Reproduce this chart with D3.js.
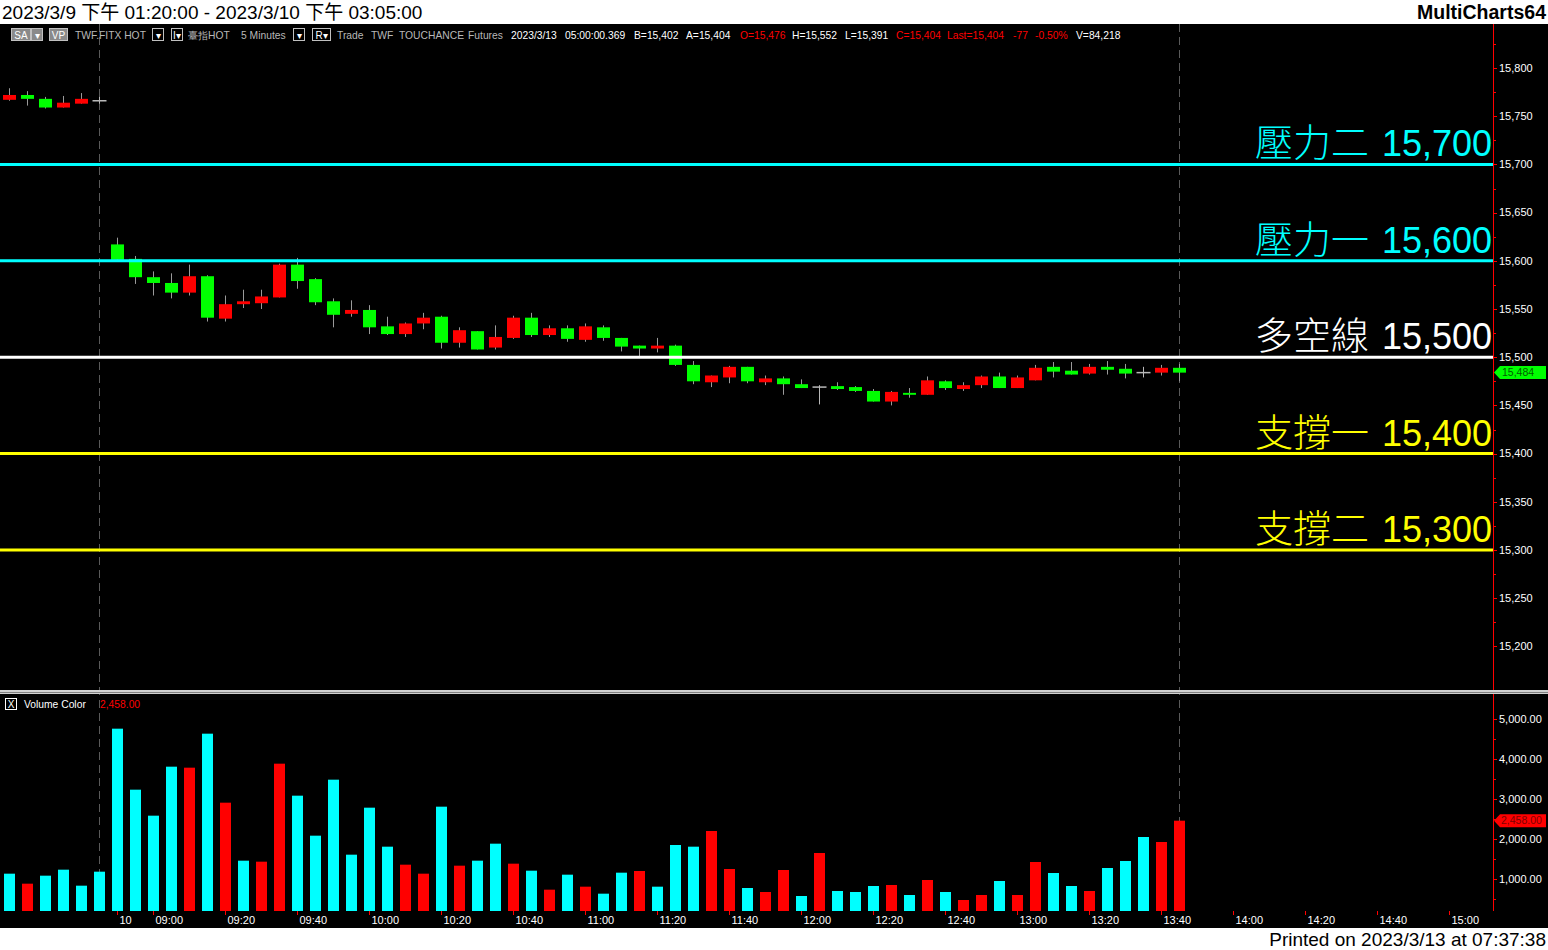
<!DOCTYPE html>
<html><head><meta charset="utf-8">
<script src="https://cdn.jsdelivr.net/npm/d3@7"></script>
<style>body{margin:0;background:#fff;overflow:hidden}svg{display:block}</style>
</head><body><svg id="c" width="1548" height="950"></svg>
<script>
// ---------- DATA ----------
const times = ["13:20","13:25","13:30","13:35","13:40","13:45",
 "08:50","08:55","09:00","09:05","09:10","09:15","09:20","09:25","09:30","09:35","09:40","09:45","09:50","09:55",
 "10:00","10:05","10:10","10:15","10:20","10:25","10:30","10:35","10:40","10:45","10:50","10:55",
 "11:00","11:05","11:10","11:15","11:20","11:25","11:30","11:35","11:40","11:45","11:50","11:55",
 "12:00","12:05","12:10","12:15","12:20","12:25","12:30","12:35","12:40","12:45","12:50","12:55",
 "13:00","13:05","13:10","13:15","13:20","13:25","13:30","13:35","13:40","13:45"];
const opens  = [15767,15772,15768,15759,15763,15766, 15617,15602,15583,15577,15567,15584,15540,15555,15556,15562,15596,15581,15558,15545,
 15549,15532,15524,15535,15542,15515,15527,15510,15520,15541,15523,15530, 15518,15531,15520,15512,15509,15512,15492,15474,15479,15490,15474,15478,
 15472,15469,15470,15469,15465,15454,15463,15461,15475,15467,15471,15480, 15468,15476,15490,15486,15483,15490,15488,15484,15484,15489];
const highs  = [15779,15776,15770,15771,15774,15770, 15624,15605,15589,15587,15596,15585,15564,15570,15570,15597,15603,15582,15561,15559,
 15554,15542,15536,15546,15543,15531,15527,15533,15543,15546,15533,15533, 15535,15533,15520,15512,15520,15513,15496,15481,15491,15490,15481,15480,
 15477,15471,15474,15470,15467,15465,15468,15480,15476,15474,15481,15484, 15481,15492,15495,15495,15493,15496,15493,15490,15492,15493];
const lows   = [15766,15761,15758,15759,15763,15763, 15600,15576,15564,15561,15564,15537,15537,15551,15550,15562,15571,15554,15531,15542,
 15524,15523,15521,15529,15509,15510,15508,15508,15519,15521,15521,15516, 15516,15517,15506,15501,15505,15491,15472,15469,15473,15473,15471,15461,
 15468,15451,15466,15464,15454,15450,15458,15461,15466,15465,15468,15468, 15468,15476,15479,15482,15482,15482,15478,15479,15481,15475];
const closes = [15772,15768,15759,15764,15768,15766, 15601,15583,15577,15567,15584,15541,15555,15558,15563,15596,15579,15557,15544,15549,
 15531,15524,15535,15541,15515,15528,15508,15521,15541,15523,15530,15519, 15532,15520,15511,15509,15512,15492,15475,15481,15490,15475,15478,15472,
 15468,15469,15467,15465,15454,15464,15461,15476,15468,15471,15480,15468, 15479,15489,15485,15482,15490,15487,15483,15484,15489,15484];
const volumes = [1133,883,1083,1233,833,1183, 4758,3233,2583,3808,3783,4633,2908,1458,1433,3883,3083,2083,3483,1608,
 2783,1808,1358,1133,2808,1333,1458,1883,1383,1208,733,1108, 808,633,1158,1200,808,1850,1808,2200,1250,775,675,1225,
 575,1650,700,675,825,850,600,975,675,475,600,950, 600,1425,1150,825,700,1275,1450,2050,1925,2458];
const volumeUp = [0,1,0,0,0,0, 0,0,0,0,1,0,1,0,1,1,0,0,0,0,
 0,0,1,1,0,1,0,0,1,0,1,0, 1,0,0,1,0,0,0,1,1,0,1,1,
 0,1,0,0,0,1,0,1,0,1,1,0, 1,1,0,0,1,0,0,0,1,1];
const day2Start = 6;
const tickTimes  = ["08:50","09:00","09:20","09:40","10:00","10:20","10:40","11:00","11:20","11:40","12:00","12:20","12:40","13:00","13:20","13:40","14:00","14:20","14:40","15:00"];
const tickLabels = ["10","09:00","09:20","09:40","10:00","10:20","10:40","11:00","11:20","11:40","12:00","12:20","12:40","13:00","13:20","13:40","14:00","14:20","14:40","15:00"];
const levelValues = [15700,15600,15500,15400,15300];
const levelNames  = ["壓力二","壓力一","多空線","支撐一","支撐二"];
const priceTicks = [15200,15250,15300,15350,15400,15450,15500,15550,15600,15650,15700,15750,15800];
const volumeTicks = [1000,2000,3000,4000,5000];
const lastPrice = 15484, lastVolume = 2458;
const titleText = "2023/3/9 下午 01:20:00 - 2023/3/10 下午 03:05:00";
const printedText = "Printed on 2023/3/13 at 07:37:38";

// ---------- STYLE / LAYOUT ----------
const levelColors = {"壓力二":"#00FFFF","壓力一":"#00FFFF","多空線":"#FFFFFF","支撐一":"#FFFF00","支撐二":"#FFFF00"};
const AX = 1493, P_TOP = 24, P_BOT = 690, V_BOT = 911;
const svg = d3.select("#c");
const x = d3.scaleLinear().domain([0, 80]).range([9.5, 1449.5]);
const y = d3.scaleLinear().domain([15150, 15850]).range([694.6, 19.8]);
const yv = d3.scaleLinear().domain([200, 5500]).range([V_BOT, 699]);
const toMin = t => { const [h, m] = t.split(":").map(Number); return h * 60 + m; };
const slotOf = t => day2Start + (toMin(t) - toMin(times[day2Start])) / 5;
const FONT = "'Liberation Sans', Arial, sans-serif";

svg.append("rect").attr("width", 1548).attr("height", 950).attr("fill", "#fff");
svg.append("rect").attr("x", 0).attr("y", P_TOP).attr("width", 1548).attr("height", 928 - P_TOP).attr("fill", "#000");

// title / footer
svg.append("text").attr("x", 2).attr("y", 19).attr("font-family", "'Liberation Sans','Noto Sans CJK TC',sans-serif")
  .attr("font-size", 19).attr("fill", "#000").text(titleText);
svg.append("text").attr("x", 1546).attr("y", 19).attr("text-anchor", "end").attr("font-family", FONT)
  .attr("font-weight", "bold").attr("font-size", 19.5).attr("fill", "#000").text("MultiCharts64");
svg.append("text").attr("x", 1546).attr("y", 946).attr("text-anchor", "end").attr("font-family", FONT)
  .attr("font-size", 19).attr("fill", "#000").text(printedText);

const defs = svg.append("defs");
defs.append("clipPath").attr("id", "pc").append("rect").attr("x", 0).attr("y", P_TOP).attr("width", AX).attr("height", P_BOT - P_TOP);
defs.append("clipPath").attr("id", "vc").append("rect").attr("x", 0).attr("y", 694).attr("width", AX).attr("height", V_BOT - 694);

// session dashed lines
const sessionLines = [day2Start - 1, times.length - 1];
svg.append("g").selectAll("line").data(sessionLines).join("line")
  .attr("x1", d => x(d)).attr("x2", d => x(d)).attr("y1", P_TOP).attr("y2", V_BOT)
  .attr("stroke", "#5a5a5a").attr("stroke-width", 1).attr("stroke-dasharray", "8,5");

// candles
const pg = svg.append("g").attr("clip-path", "url(#pc)");
const idx = d3.range(times.length);
pg.selectAll("line.wick").data(idx).join("line").attr("class", "wick")
  .attr("x1", i => x(i)).attr("x2", i => x(i)).attr("y1", i => y(highs[i])).attr("y2", i => y(lows[i]))
  .attr("stroke", i => opens[i] === closes[i] ? "#b8b8b8" : "#9a9a9a").attr("stroke-width", 1);
pg.selectAll("rect.body").data(idx.filter(i => opens[i] !== closes[i])).join("rect").attr("class", "body")
  .attr("x", i => x(i) - 6.5).attr("width", 13)
  .attr("y", i => y(Math.max(opens[i], closes[i])))
  .attr("height", i => Math.max(1.5, Math.abs(y(opens[i]) - y(closes[i]))))
  .attr("fill", i => closes[i] > opens[i] ? "#FF0000" : "#00FF00");
pg.selectAll("line.doji").data(idx.filter(i => opens[i] === closes[i])).join("line").attr("class", "doji")
  .attr("x1", i => x(i) - 7).attr("x2", i => x(i) + 7).attr("y1", i => y(opens[i])).attr("y2", i => y(opens[i]))
  .attr("stroke", "#b8b8b8").attr("stroke-width", 1.5);

// level lines + labels
levelValues.forEach((v, k) => {
  const c = levelColors[levelNames[k]];
  pg.append("line").attr("x1", 0).attr("x2", AX).attr("y1", y(v)).attr("y2", y(v)).attr("stroke", c).attr("stroke-width", 3);
  const t = pg.append("text").attr("x", AX - 1).attr("y", y(v) - 8).attr("text-anchor", "end").attr("fill", c);
  t.append("tspan").attr("font-family", "'Noto Sans CJK TC','Noto Sans',sans-serif").attr("font-weight", 300)
    .attr("font-size", 38).text(levelNames[k]);
  t.append("tspan").attr("dx", 13).attr("font-family", FONT).attr("font-size", 36).text(d3.format(",")(v));
});

// price axis
const ax = svg.append("g");
ax.append("line").attr("x1", AX + 0.5).attr("x2", AX + 0.5).attr("y1", P_TOP).attr("y2", P_BOT).attr("stroke", "#FF0000");
ax.selectAll("line.mj").data(priceTicks).join("line").attr("x1", AX).attr("x2", AX + 4)
  .attr("y1", d => Math.round(y(d)) + 0.5).attr("y2", d => Math.round(y(d)) + 0.5).attr("stroke", "#FF0000");
ax.selectAll("line.mn").data(priceTicks.map(d => d + 25).filter(d => y(d) > P_TOP + 4)).join("line").attr("x1", AX).attr("x2", AX + 3)
  .attr("y1", d => Math.round(y(d)) + 0.5).attr("y2", d => Math.round(y(d)) + 0.5).attr("stroke", "#FF0000");
ax.selectAll("text").data(priceTicks).join("text").attr("x", 1499).attr("y", d => y(d)).attr("dy", "0.35em")
  .attr("font-family", FONT).attr("font-size", 11).attr("fill", "#fff").text(d => d3.format(",")(d));
// last price tag
const ly = y(lastPrice);
ax.append("path").attr("d", `M${AX + 1},${ly} L${AX + 7},${ly - 6.5} L1546,${ly - 6.5} L1546,${ly + 6.5} L${AX + 7},${ly + 6.5} Z`).attr("fill", "#00FF00");
ax.append("text").attr("x", 1502).attr("y", ly).attr("dy", "0.35em").attr("font-family", FONT).attr("font-size", 10.5)
  .attr("fill", "#006000").text(d3.format(",")(lastPrice));

// panel separator
svg.append("rect").attr("x", 0).attr("y", 690).attr("width", 1548).attr("height", 4).attr("fill", "#d0d0d0");
svg.append("line").attr("x1", 0).attr("x2", 1548).attr("y1", 692.5).attr("y2", 692.5).attr("stroke", "#808080");

// volume bars
const vg = svg.append("g").attr("clip-path", "url(#vc)");
vg.selectAll("rect").data(idx).join("rect")
  .attr("x", i => x(i) - 5.5).attr("width", 11)
  .attr("y", i => yv(volumes[i])).attr("height", i => V_BOT - yv(volumes[i]))
  .attr("fill", i => volumeUp[i] ? "#FF0000" : "#00FFFF");

// volume axis
const vax = svg.append("g");
vax.append("line").attr("x1", AX + 0.5).attr("x2", AX + 0.5).attr("y1", 694).attr("y2", V_BOT).attr("stroke", "#FF0000");
vax.selectAll("line.mj").data(volumeTicks).join("line").attr("x1", AX).attr("x2", AX + 4)
  .attr("y1", d => Math.round(yv(d)) + 0.5).attr("y2", d => Math.round(yv(d)) + 0.5).attr("stroke", "#FF0000");
vax.selectAll("line.mn").data(volumeTicks.map(d => d - 500)).join("line").attr("x1", AX).attr("x2", AX + 3)
  .attr("y1", d => Math.round(yv(d)) + 0.5).attr("y2", d => Math.round(yv(d)) + 0.5).attr("stroke", "#FF0000");
vax.selectAll("text").data(volumeTicks).join("text").attr("x", 1499).attr("y", d => yv(d)).attr("dy", "0.35em")
  .attr("font-family", FONT).attr("font-size", 11).attr("fill", "#fff").text(d => d3.format(",.2f")(d));
const lvy = yv(lastVolume);
vax.append("path").attr("d", `M${AX + 1},${lvy} L${AX + 7},${lvy - 6.5} L1546,${lvy - 6.5} L1546,${lvy + 6.5} L${AX + 7},${lvy + 6.5} Z`).attr("fill", "#FF0000");
vax.append("text").attr("x", 1501).attr("y", lvy).attr("dy", "0.35em").attr("font-family", FONT).attr("font-size", 10.5)
  .attr("fill", "#800000").text(d3.format(",.2f")(lastVolume));

// time axis
const tax = svg.append("g");
tax.append("line").attr("x1", 0).attr("x2", AX + 1).attr("y1", V_BOT + 0.5).attr("y2", V_BOT + 0.5).attr("stroke", "#FF0000");
tax.selectAll("line").data(tickTimes).join("line")
  .attr("x1", t => x(slotOf(t))).attr("x2", t => x(slotOf(t))).attr("y1", V_BOT).attr("y2", V_BOT + 4).attr("stroke", "#FF0000");
tax.selectAll("text").data(tickTimes).join("text")
  .attr("x", t => x(slotOf(t)) + 2).attr("y", 920).attr("dy", "0.35em")
  .attr("font-family", FONT).attr("font-size", 11).attr("fill", "#fff").text((t, k) => tickLabels[k]);

// header row
const hy = 35;
const hdr = svg.append("g").attr("font-family", FONT).attr("font-size", 10.3);
function box(x0, w, label, fill) {
  hdr.append("rect").attr("x", x0 + 0.5).attr("y", hy - 6.5).attr("width", w).attr("height", 12)
    .attr("fill", fill || "#000").attr("stroke", "#c0c0c0");
  hdr.append("text").attr("x", x0 + w / 2 + 0.5).attr("y", hy).attr("dy", "0.35em").attr("text-anchor", "middle")
    .attr("fill", "#fff").attr("font-size", 10).text(label);
}
box(11, 19, "SA", "#8a8a8a"); box(31, 11, "▾", "#8a8a8a"); box(49, 18, "VP", "#8a8a8a");
box(152, 11, "▾"); box(171, 11, "I▾"); box(293, 11, "▾"); box(312, 18, "R▾");
const headerItems = [
  [75, "TWF.FITX HOT", "#b8b8b8"], [188, "臺指HOT", "#b8b8b8"], [241, "5 Minutes", "#b8b8b8"],
  [337, "Trade", "#b8b8b8"], [371, "TWF", "#b8b8b8"], [399, "TOUCHANCE", "#b8b8b8"], [468, "Futures", "#b8b8b8"],
  [511, "2023/3/13", "#fff"], [565, "05:00:00.369", "#fff"], [634, "B=15,402", "#fff"], [686, "A=15,404", "#fff"],
  [740, "O=15,476", "#FF0000"], [792, "H=15,552", "#fff"], [845, "L=15,391", "#fff"], [896, "C=15,404", "#FF0000"],
  [947, "Last=15,404", "#FF0000"], [1013, "-77", "#FF0000"], [1035, "-0.50%", "#FF0000"], [1076, "V=84,218", "#fff"]];
hdr.selectAll("text.h").data(headerItems).join("text").attr("class", "h")
  .attr("x", d => d[0]).attr("y", hy).attr("dy", "0.35em").attr("fill", d => d[2]).text(d => d[1]);

// volume header
const vh = svg.append("g").attr("font-family", FONT).attr("font-size", 10.3);
vh.append("rect").attr("x", 5.5).attr("y", 698.5).attr("width", 11).attr("height", 11).attr("fill", "none").attr("stroke", "#fff");
vh.append("text").attr("x", 11).attr("y", 704).attr("dy", "0.35em").attr("text-anchor", "middle").attr("fill", "#fff").attr("font-size", 10).text("X");
vh.append("text").attr("x", 24).attr("y", 704).attr("dy", "0.35em").attr("fill", "#fff").text("Volume Color");
vh.append("text").attr("x", 100).attr("y", 704).attr("dy", "0.35em").attr("fill", "#FF0000").text(d3.format(",.2f")(lastVolume));
</script></body></html>
